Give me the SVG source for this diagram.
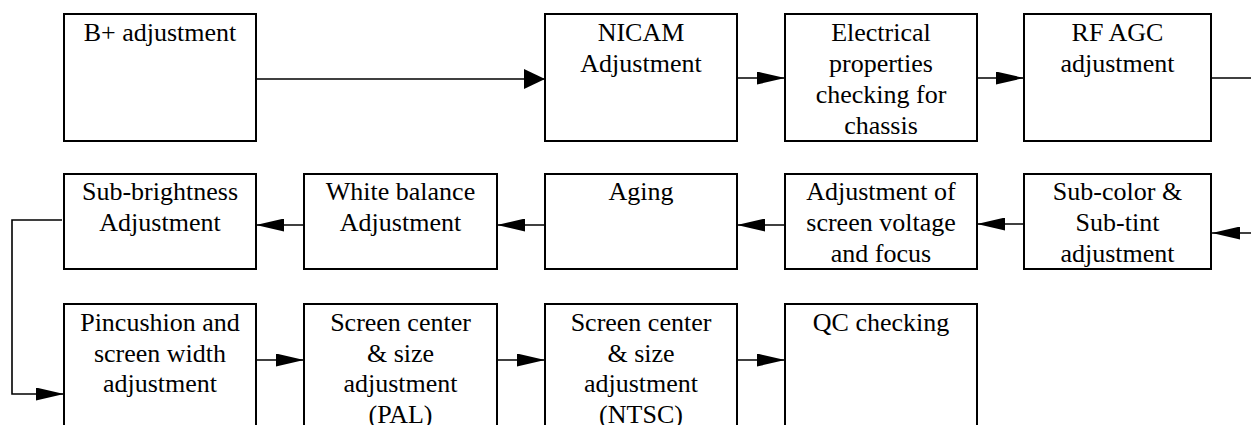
<svg xmlns="http://www.w3.org/2000/svg" width="1251" height="425" viewBox="0 0 1251 425">
<style>
  .box { fill: #ffffff; stroke: #000000; stroke-width: 2; }
  .lbl { font-family: "Liberation Serif", "Times New Roman", serif; font-size: 26px; fill: #000000; text-anchor: middle; }
  .con { fill: none; stroke: #000000; stroke-width: 1.6; }
  .head { fill: #000000; stroke: none; }
</style>
<defs>
  <marker id="arr" markerUnits="userSpaceOnUse" markerWidth="28" markerHeight="13" viewBox="0 0 28 13" refX="28" refY="6.5" orient="auto">
    <path d="M0,0 L28,6.5 L0,13 Z" class="head"/>
  </marker>
  <marker id="arrBig" markerUnits="userSpaceOnUse" markerWidth="21" markerHeight="20" viewBox="0 0 21 20" refX="21" refY="10" orient="auto">
    <path d="M0,0 L21,10 L0,20 Z" class="head"/>
  </marker>
</defs>
<rect width="1251" height="425" fill="#ffffff"/>

<g id="connectors">
  <line class="con" x1="257" y1="79" x2="545" y2="79" marker-end="url(#arrBig)"/>
  <line class="con" x1="737" y1="78" x2="785" y2="78" marker-end="url(#arr)"/>
  <line class="con" x1="973" y1="78" x2="1024" y2="78" marker-end="url(#arr)"/>
  <line class="con" x1="1210" y1="78" x2="1251" y2="78"/>
  <line class="con" x1="1251" y1="233" x2="1212" y2="233" marker-end="url(#arr)"/>
  <line class="con" x1="1024" y1="224" x2="977" y2="224" marker-end="url(#arr)"/>
  <line class="con" x1="786" y1="225" x2="737" y2="225" marker-end="url(#arr)"/>
  <line class="con" x1="547" y1="225" x2="497" y2="225" marker-end="url(#arr)"/>
  <line class="con" x1="304" y1="225" x2="256" y2="225" marker-end="url(#arr)"/>
  <polyline class="con" points="62,220 12,220 12,394 64,394" marker-end="url(#arr)"/>
  <line class="con" x1="257" y1="360" x2="304" y2="360" marker-end="url(#arr)"/>
  <line class="con" x1="497" y1="360" x2="545" y2="360" marker-end="url(#arr)"/>
  <line class="con" x1="737" y1="360" x2="785" y2="360" marker-end="url(#arr)"/>
</g>

<g id="n-bplus">
  <rect class="box" x="64" y="14" width="192" height="127"/>
  <text class="lbl" x="160" y="40.5">B+ adjustment</text>
</g>
<g id="n-nicam">
  <rect class="box" x="545" y="14" width="192" height="127"/>
  <text class="lbl" x="641" y="40.5">NICAM</text>
  <text class="lbl" x="641" y="72">Adjustment</text>
</g>
<g id="n-electrical">
  <rect class="box" x="785" y="14" width="192" height="127"/>
  <text class="lbl" x="881" y="40.5">Electrical</text>
  <text class="lbl" x="881" y="72">properties</text>
  <text class="lbl" x="881" y="103">checking for</text>
  <text class="lbl" x="881" y="134">chassis</text>
</g>
<g id="n-rfagc">
  <rect class="box" x="1024" y="14" width="187" height="127"/>
  <text class="lbl" x="1117.5" y="40.5">RF AGC</text>
  <text class="lbl" x="1117.5" y="72">adjustment</text>
</g>

<g id="n-subbright">
  <rect class="box" x="64" y="174" width="192" height="95"/>
  <text class="lbl" x="160" y="200">Sub-brightness</text>
  <text class="lbl" x="160" y="231">Adjustment</text>
</g>
<g id="n-white">
  <rect class="box" x="304" y="174" width="193" height="95"/>
  <text class="lbl" x="400.5" y="200">White balance</text>
  <text class="lbl" x="400.5" y="231">Adjustment</text>
</g>
<g id="n-aging">
  <rect class="box" x="545" y="174" width="192" height="95"/>
  <text class="lbl" x="641" y="200">Aging</text>
</g>
<g id="n-screenvolt">
  <rect class="box" x="785" y="174" width="192" height="95"/>
  <text class="lbl" x="881" y="200">Adjustment of</text>
  <text class="lbl" x="881" y="231">screen voltage</text>
  <text class="lbl" x="881" y="262">and focus</text>
</g>
<g id="n-subcolor">
  <rect class="box" x="1024" y="174" width="187" height="95"/>
  <text class="lbl" x="1117.5" y="200">Sub-color &amp;</text>
  <text class="lbl" x="1117.5" y="231">Sub-tint</text>
  <text class="lbl" x="1117.5" y="262">adjustment</text>
</g>

<g id="n-pincushion">
  <rect class="box" x="64" y="304" width="192" height="140"/>
  <text class="lbl" x="160" y="331">Pincushion and</text>
  <text class="lbl" x="160" y="361.5">screen width</text>
  <text class="lbl" x="160" y="392">adjustment</text>
</g>
<g id="n-pal">
  <rect class="box" x="304" y="304" width="193" height="140"/>
  <text class="lbl" x="400.5" y="331">Screen center</text>
  <text class="lbl" x="400.5" y="361.5">&amp; size</text>
  <text class="lbl" x="400.5" y="392">adjustment</text>
  <text class="lbl" x="400.5" y="422.5">(PAL)</text>
</g>
<g id="n-ntsc">
  <rect class="box" x="545" y="304" width="192" height="140"/>
  <text class="lbl" x="641" y="331">Screen center</text>
  <text class="lbl" x="641" y="361.5">&amp; size</text>
  <text class="lbl" x="641" y="392">adjustment</text>
  <text class="lbl" x="641" y="422.5">(NTSC)</text>
</g>
<g id="n-qc">
  <rect class="box" x="785" y="304" width="192" height="140"/>
  <text class="lbl" x="881" y="331">QC checking</text>
</g>
</svg>
